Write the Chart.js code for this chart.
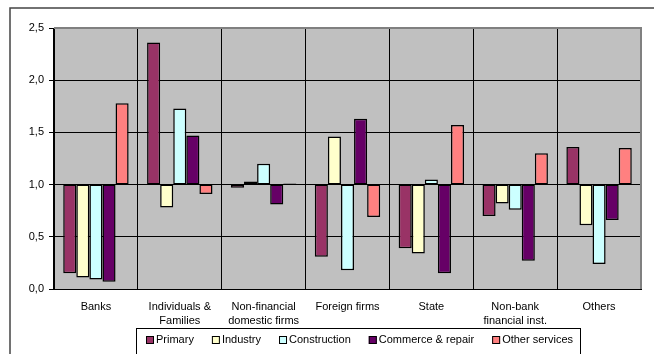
<!DOCTYPE html>
<html>
<head>
<meta charset="utf-8">
<script src="https://cdn.jsdelivr.net/npm/chart.js@4/dist/chart.umd.min.js"></script>
<style>
  html, body { margin: 0; padding: 0; background: #fff; }
  #wrap { width: 654px; height: 354px; }
</style>
</head>
<body>
<div id="wrap"><canvas id="c" width="654" height="354"></canvas></div>
<script>
// Sector categories (multi-line labels)
const categories = [
  ['Banks'],
  ['Individuals &', 'Families'],
  ['Non-financial', 'domestic firms'],
  ['Foreign firms'],
  ['State'],
  ['Non-bank', 'financial inst.'],
  ['Others']
];

// Index values per activity (bars float from the 1.0 baseline)
const primary       = [0.15, 2.36, 0.97, 0.31, 0.39, 0.70, 1.36];
const industry      = [0.11, 0.78, 1.03, 1.46, 0.34, 0.82, 0.61];
const construction  = [0.09, 1.73, 1.20, 0.18, 1.05, 0.76, 0.24];
const commerce      = [0.07, 1.47, 0.81, 1.63, 0.15, 0.27, 0.66];
const otherServices = [1.78, 0.91, 1.01, 0.69, 1.57, 1.30, 1.35];

const seriesNames = ['Primary', 'Industry', 'Construction', 'Commerce & repair', 'Other services'];
const seriesColors = ['#993366', '#FFFFCC', '#CCFFFF', '#660066', '#FF8080'];
const baseline = 1.0;
const yMin = 0, yMax = 2.5, yStep = 0.5;

const FONT = '"Liberation Sans", Arial, sans-serif';

const seriesValues = [primary, industry, construction, commerce, otherServices];
const datasets = seriesValues.map((vals, i) => ({
  label: seriesNames[i],
  data: vals.map(v => [baseline, v]),
  backgroundColor: seriesColors[i],
  borderColor: '#000',
  borderWidth: 1.5,
  borderSkipped: false,
  barPercentage: 1.0,
  categoryPercentage: 0.78
}));

// Grey plot area, outer frame, plot border and boxed legend
const framePlugin = {
  id: 'frame',
  beforeDraw(chart) {
    const { ctx, chartArea: a } = chart;
    ctx.save();
    ctx.fillStyle = '#fff';
    ctx.fillRect(0, 0, chart.width, chart.height);
    ctx.fillStyle = '#C0C0C0';
    ctx.fillRect(a.left, a.top, a.right - a.left, a.bottom - a.top);
    // outer frame
    ctx.strokeStyle = '#444';
    ctx.lineWidth = 1.5;
    ctx.beginPath();
    ctx.moveTo(10, chart.height + 2);
    ctx.lineTo(10, 8);
    ctx.lineTo(chart.width + 2, 8);
    ctx.stroke();
    ctx.restore();
  },
  afterDraw(chart) {
    const { ctx, chartArea: a } = chart;
    ctx.save();
    // top and right plot border
    ctx.strokeStyle = '#808080';
    ctx.lineWidth = 2;
    ctx.beginPath();
    ctx.moveTo(a.left, a.top);
    ctx.lineTo(a.right, a.top);
    ctx.lineTo(a.right, a.bottom);
    ctx.stroke();

    // legend box
    const bx = 136, by = 328, bw = 444, bh = 30;
    ctx.fillStyle = '#fff';
    ctx.fillRect(bx, by, bw, bh);
    ctx.strokeStyle = '#000';
    ctx.lineWidth = 1;
    ctx.strokeRect(bx + 0.5, by + 0.5, bw, bh);

    ctx.font = '11px ' + FONT;
    ctx.textBaseline = 'middle';
    ctx.textAlign = 'left';
    let x = 146;
    const cy = 340;
    chart.data.datasets.forEach(ds => {
      ctx.fillStyle = ds.backgroundColor;
      ctx.fillRect(x, cy - 4, 8, 8);
      ctx.strokeStyle = '#000';
      ctx.lineWidth = 1;
      ctx.strokeRect(x + 0.5, cy - 3.5, 7, 7);
      ctx.fillStyle = '#000';
      ctx.fillText(ds.label, x + 10, cy);
      x += 10 + ctx.measureText(ds.label).width + 18;
    });
    ctx.restore();
  }
};

new Chart(document.getElementById('c'), {
  type: 'bar',
  data: { labels: categories, datasets },
  options: {
    responsive: false,
    animation: false,
    devicePixelRatio: 1,
    layout: { padding: { top: 28, right: 13, left: 0, bottom: 0 } },
    plugins: {
      legend: { display: false },
      tooltip: { enabled: false }
    },
    scales: {
      x: {
        grid: { color: '#000', lineWidth: 1, drawTicks: false, offset: true },
        border: { color: '#000', width: 1 },
        ticks: {
          color: '#000',
          font: { family: FONT, size: 11, lineHeight: 1.25 },
          padding: 11,
          maxRotation: 0,
          autoSkip: false
        },
        afterFit(scale) { scale.height = 65; }
      },
      y: {
        min: yMin,
        max: yMax,
        grid: { color: '#000', lineWidth: 1, tickLength: 5, drawTicks: true },
        border: { color: '#000', width: 1 },
        ticks: {
          stepSize: yStep,
          color: '#000',
          padding: 5,
          font: { family: FONT, size: 11 },
          callback: v => v.toFixed(1).replace('.', ',')
        },
        afterFit(scale) { scale.width = 54; }
      }
    }
  },
  plugins: [framePlugin]
});
</script>
</body>
</html>
